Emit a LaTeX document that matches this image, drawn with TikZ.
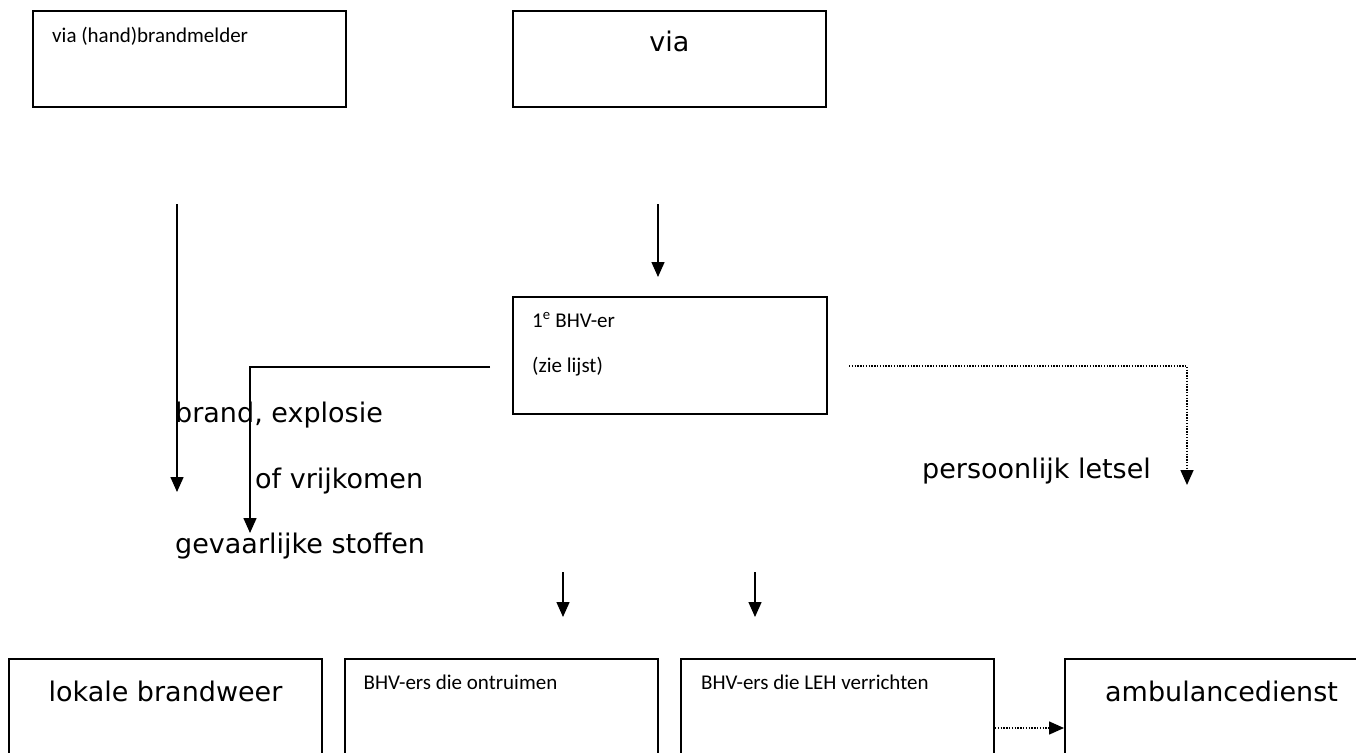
\documentclass[tikz,border=0pt]{standalone}
\usepackage{fontspec}
\setmainfont{Carlito}
\newfontfamily\comicfont{DejaVu Sans}
\usetikzlibrary{arrows.meta}

\begin{document}
\begin{tikzpicture}[x=1pt, y=-1pt,
    box/.style={draw, line width=2pt, rectangle, minimum width=313pt, minimum height=96pt, inner sep=0pt},
    onderbox/.style={box, minimum height=138pt},
    klein/.style={font=\fontsize{21}{25}\selectfont, inner sep=0pt, anchor=base west},
    groot/.style={font=\comicfont\fontsize{27}{32}\selectfont, inner sep=0pt},
    pijl/.style={line width=1.5pt, -{Triangle[width=13pt,length=15pt]}},
    stip/.style={dash pattern=on 1.4pt off 1.4pt}]

    \useasboundingbox (0,0) rectangle (1356,752);
    \clip (0,0) rectangle (1356,752);

    % bovenste rij
    \node[box] (melder) at (189.5,59) {};
    \node[klein] (meldertekst) at ([shift={(20,32)}]melder.north west) {via (hand)brandmelder};

    \node[box] (via) at (669.5,59) {};
    \node[groot, anchor=base] (viatekst) at ([shift={(0,42)}]via.north) {via};

    \node[box, minimum width=314pt, minimum height=117pt] (bhv) at (670,355.5) {};
    \node[klein] (bhvtekst) at ([shift={(20,31)}]bhv.north west) {1\textsuperscript{e} BHV-er};
    \node[klein] (lijst) at ([shift={(20,76)}]bhv.north west) {(zie lijst)};

    % losse teksten
    \node[groot, anchor=base west] (brand) at (175,422) {brand, explosie};
    \node[groot, anchor=base west] (vrijkomen) at (255,488) {of vrijkomen};
    \node[groot, anchor=base west] (stoffen) at (175,553) {gevaarlijke stoffen};
    \node[groot, anchor=base west] (letsel) at (922,478) {persoonlijk letsel};

    % onderste rij
    \node[onderbox] (brandweer) at (165.5,728) {};
    \node[groot, anchor=base] (brandweertekst) at ([shift={(0,43)}]brandweer.north) {lokale brandweer};

    \node[onderbox] (ontruim) at (501,728) {};
    \node[klein] (ontruimtekst) at ([shift={(20,31)}]ontruim.north west) {BHV-ers die ontruimen};

    \node[onderbox] (leh) at (837.5,728) {};
    \node[klein] (lehtekst) at ([shift={(21,31)}]leh.north west) {BHV-ers die LEH verrichten};

    \node[onderbox] (ambu) at (1221.5,728) {};
    \node[groot, anchor=base] (ambutekst) at ([shift={(0,43)}]ambu.north) {ambulancedienst};

    % vrije eindpunten
    \coordinate (meldervan) at (177,204);
    \coordinate (meldernaar) at (177,492);
    \coordinate (viavan) at (658,204);
    \coordinate (vianaar) at (658,277);
    \coordinate (bhvlinks) at (490,367);
    \coordinate (stofnaar) at (250,533);
    \coordinate (bhvrechts) at (849,366);
    \coordinate (letselnaar) at (1187,485);
    \coordinate (ontruimvan) at (563,572);
    \coordinate (ontruimnaar) at (563,617);
    \coordinate (lehvan) at (755,572);
    \coordinate (lehnaar) at (755,617);

    \draw[pijl] (meldervan) -- (meldernaar);
    \draw[pijl] (viavan) -- (vianaar);
    \draw[pijl] (bhvlinks) -| (stofnaar);
    \draw[pijl, stip] (bhvrechts) -| (letselnaar);
    \draw[pijl] (ontruimvan) -- (ontruimnaar);
    \draw[pijl] (lehvan) -- (lehnaar);
    \draw[pijl, stip] (leh.east) -- (ambu.west);
\end{tikzpicture}
\end{document}
